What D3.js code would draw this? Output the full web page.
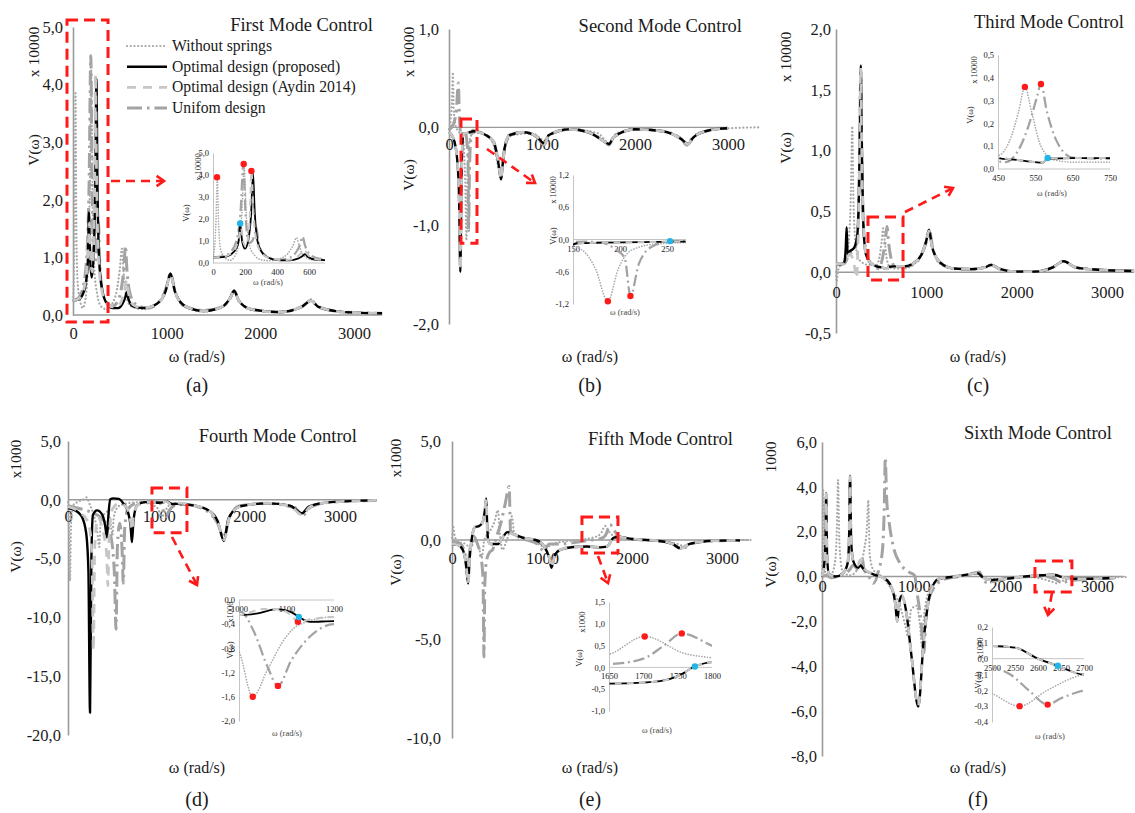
<!DOCTYPE html>
<html>
<head>
<meta charset="utf-8">
<script src="https://cdn.jsdelivr.net/npm/d3@7"></script>
<style>
  body { margin: 0; background: #fff; }
  svg text { font-family: "Liberation Serif", "Times New Roman", serif; fill: #1a1a1a; }
</style>
</head>
<body>
<svg id="fig" width="1135" height="813"></svg>
<script>
// ---------------------------------------------------------------
// Frequency response V(ω) for each controlled mode, [ω (rad/s), V]
// ---------------------------------------------------------------
const seriesNames = ["Without springs", "Optimal design (proposed)", "Optimal design (Aydin 2014)", "Unifom design"];

// First mode (x 10000)
const firstWithout = [[0,0.25],[10,0.7],[18,1.8],[27,3.85],[35,1.8],[48,0.6],[75,0.25],[105,0.12],[135,0.3],[160,0.9],[180,2.2],[195,4.25],[208,2.2],[228,0.8],[260,0.35],[300,0.15],[360,0.1],[420,0.2],[470,0.45],[500,0.8],[522,1.15],[540,0.75],[565,0.35],[620,0.15],[750,0.1],[900,0.2],[990,0.42],[1040,0.72],[1090,0.4],[1180,0.15],[1400,0.06],[1600,0.15],[1680,0.3],[1720,0.42],[1770,0.25],[1900,0.1],[2200,0.05],[2450,0.15],[2540,0.27],[2620,0.14],[2900,0.05],[3300,0.03]];
const firstProposed = [[0,0.25],[60,0.27],[110,0.38],[145,0.65],[160,1.0],[170,1.78],[182,1.0],[200,0.65],[222,1.1],[238,2.2],[250,4.1],[261,2.3],[278,1.0],[310,0.45],[360,0.2],[420,0.12],[480,0.12],[530,0.2],[560,0.32],[575,0.4],[592,0.28],[640,0.15],[750,0.12],[900,0.2],[990,0.42],[1040,0.72],[1090,0.4],[1200,0.15],[1400,0.07],[1600,0.15],[1680,0.3],[1720,0.42],[1770,0.25],[1900,0.1],[2200,0.05],[2450,0.15],[2540,0.25],[2620,0.14],[2900,0.05],[3300,0.03]];
const firstAydin = [[0,0.25],[60,0.28],[110,0.42],[145,0.75],[162,1.2],[176,1.6],[188,1.0],[205,0.75],[222,1.3],[232,2.4],[240,4.18],[252,2.4],[272,1.0],[305,0.45],[360,0.2],[420,0.14],[480,0.15],[530,0.3],[558,0.5],[572,0.6],[590,0.4],[640,0.18],[750,0.12],[900,0.2],[990,0.42],[1040,0.7],[1090,0.4],[1200,0.15],[1400,0.07],[1600,0.15],[1680,0.3],[1720,0.41],[1770,0.25],[1900,0.1],[2200,0.05],[2450,0.15],[2540,0.25],[2620,0.14],[2900,0.05],[3300,0.03]];
const firstUniform = [[0,0.25],[60,0.3],[110,0.5],[150,1.1],[172,2.3],[190,4.5],[203,2.3],[222,0.9],[245,1.0],[262,1.35],[272,1.6],[283,1.0],[310,0.45],[360,0.22],[420,0.15],[480,0.25],[520,0.5],[545,0.85],[560,1.2],[575,0.8],[605,0.4],[660,0.2],[800,0.12],[950,0.3],[1000,0.5],[1040,0.72],[1090,0.4],[1200,0.15],[1400,0.08],[1600,0.15],[1680,0.3],[1720,0.42],[1770,0.25],[1900,0.1],[2200,0.05],[2450,0.15],[2540,0.25],[2620,0.14],[2900,0.05],[3300,0.03]];
const firstRed = [[25,3.9],[192,4.5],[240,4.18]];
const firstBlue = [[170,1.8]];

// Second mode (x 10000)
const secondWithout = [[0,-0.02],[20,0.1],[33,0.3],[42,0.56],[50,0.2],[70,0.02],[100,-0.04],[140,-0.08],[160,-0.2],[174,-0.55],[187,-1.15],[198,-0.55],[212,-0.2],[240,-0.08],[300,-0.05],[400,-0.08],[480,-0.18],[530,-0.4],[555,-0.5],[590,-0.26],[680,-0.08],[900,-0.06],[990,-0.12],[1030,-0.15],[1090,-0.07],[1300,-0.02],[1600,-0.06],[1720,-0.16],[1800,-0.06],[2100,-0.02],[2450,-0.08],[2570,-0.16],[2680,-0.06],[3000,-0.01],[3350,0.0]];
const secondProposed = [[0,-0.05],[30,-0.08],[60,-0.15],[90,-0.35],[108,-0.7],[122,-1.47],[133,-0.6],[143,-0.2],[155,-0.07],[180,-0.06],[220,-0.05],[260,-0.04],[320,-0.05],[400,-0.08],[480,-0.15],[520,-0.3],[545,-0.45],[560,-0.53],[575,-0.4],[600,-0.2],[650,-0.08],[800,-0.05],[950,-0.1],[1000,-0.15],[1030,-0.17],[1070,-0.08],[1300,-0.02],[1500,-0.05],[1680,-0.15],[1720,-0.17],[1770,-0.1],[2000,-0.02],[2300,-0.04],[2500,-0.12],[2570,-0.17],[2630,-0.1],[2800,-0.03],[3000,-0.01]];
const secondAydin = [[0,-0.05],[30,-0.08],[60,-0.15],[90,-0.35],[108,-0.7],[123,-1.45],[134,-0.6],[143,-0.2],[155,-0.07],[180,-0.06],[220,-0.05],[260,-0.04],[320,-0.05],[400,-0.08],[480,-0.15],[520,-0.3],[545,-0.45],[560,-0.53],[575,-0.4],[600,-0.2],[650,-0.08],[800,-0.05],[950,-0.1],[1000,-0.15],[1030,-0.17],[1070,-0.08],[1300,-0.02],[1500,-0.05],[1680,-0.15],[1720,-0.17],[1770,-0.1],[2000,-0.02],[2300,-0.04],[2500,-0.12],[2570,-0.17],[2630,-0.1],[2800,-0.03],[3000,-0.01]];
const secondUniform = [[0,-0.03],[50,0.04],[80,0.18],[100,0.45],[112,0.1],[130,-0.08],[160,-0.04],[180,-0.06],[195,-0.18],[205,-0.35],[211,-1.05],[220,-0.45],[235,-0.12],[255,-0.03],[300,-0.04],[400,-0.08],[480,-0.15],[520,-0.3],[545,-0.45],[560,-0.52],[575,-0.4],[600,-0.2],[650,-0.08],[800,-0.05],[950,-0.1],[1020,-0.18],[1070,-0.08],[1300,-0.02],[1500,-0.05],[1680,-0.15],[1720,-0.18],[1770,-0.1],[2000,-0.02],[2300,-0.04],[2500,-0.12],[2560,-0.18],[2620,-0.1],[2800,-0.03],[3000,-0.01]];
const secondRed = [[187,-1.15],[211,-1.05]];
const secondBlue = [[253,-0.03]];

// Third mode (x 10000)
const thirdWithout = [[0,0.0],[8,-0.08],[20,0.0],[50,0.06],[100,0.1],[140,0.25],[163,0.6],[180,1.2],[193,0.6],[215,0.25],[245,0.12],[290,0.08],[360,0.06],[450,0.06],[480,0.12],[505,0.25],[522,0.36],[540,0.25],[565,0.1],[600,0.04],[650,0.03],[750,0.03],[850,0.06],[950,0.15],[1000,0.27],[1035,0.32],[1075,0.18],[1150,0.07],[1300,0.03],[1500,0.025],[1650,0.04],[1720,0.06],[1800,0.03],[2000,0.005],[2200,0.005],[2400,0.04],[2520,0.09],[2650,0.04],[2900,0.02],[3300,0.01]];
const thirdProposed = [[0,0.065],[60,0.065],[90,0.08],[108,0.2],[118,0.37],[128,0.15],[150,0.17],[200,0.2],[235,0.3],[255,0.7],[267,1.3],[275,1.7],[284,1.1],[300,0.45],[330,0.15],[380,0.08],[450,0.048],[500,0.04],[550,0.03],[570,0.028],[583,0.045],[650,0.048],[750,0.048],[850,0.07],[950,0.15],[1000,0.26],[1030,0.35],[1060,0.22],[1150,0.08],[1300,0.03],[1500,0.025],[1650,0.04],[1720,0.06],[1800,0.03],[2000,0.005],[2200,0.005],[2400,0.04],[2520,0.09],[2650,0.04],[2900,0.02],[3300,0.01]];
const thirdAydin = [[0,0.065],[90,0.07],[120,0.1],[150,0.15],[190,0.1],[215,0.0],[228,-0.05],[242,0.2],[260,0.9],[273,1.68],[283,1.1],[300,0.45],[330,0.15],[380,0.08],[450,0.05],[500,0.04],[550,0.03],[570,0.028],[583,0.045],[650,0.048],[750,0.048],[850,0.07],[950,0.15],[1000,0.26],[1030,0.34],[1060,0.22],[1150,0.08],[1300,0.03],[1500,0.025],[1650,0.04],[1720,0.06],[1800,0.03],[2000,0.005],[2200,0.005],[2400,0.04],[2520,0.09],[2650,0.04],[2900,0.02],[3300,0.01]];
const thirdUniform = [[0,0.07],[90,0.07],[150,0.15],[200,0.18],[240,0.3],[260,0.9],[274,1.65],[285,1.0],[310,0.3],[360,0.1],[420,0.05],[470,0.03],[500,0.07],[530,0.18],[555,0.32],[565,0.375],[580,0.26],[605,0.13],[650,0.05],[750,0.045],[850,0.06],[950,0.15],[1000,0.25],[1035,0.34],[1070,0.2],[1150,0.08],[1300,0.03],[1500,0.025],[1650,0.04],[1720,0.06],[1800,0.03],[2000,0.005],[2200,0.005],[2400,0.04],[2520,0.09],[2650,0.04],[2900,0.02],[3300,0.01]];
const thirdRed = [[522,0.36],[565,0.373]];
const thirdBlue = [[583,0.048]];

// Fourth mode (x1000)
const fourthWithout = [[0,-0.2],[10,-2],[22,-6.9],[34,-2],[55,-0.5],[100,-0.2],[160,0.0],[205,0.2],[240,-0.4],[280,-1.2],[320,-2.5],[345,-4],[360,-2],[400,-1.2],[440,-1],[470,-2],[490,-3],[505,-1.5],[550,-0.6],[600,-0.4],[650,-0.3],[800,-0.2],[900,-0.35],[960,-0.55],[1000,-0.85],[1029,-1.6],[1060,-1.15],[1100,-0.6],[1124,-0.42],[1200,-0.28],[1400,-0.5],[1600,-1.2],[1720,-3],[1800,-1.2],[1900,-0.5],[2200,-0.3],[2500,-0.6],[2590,-1.2],[2680,-0.6],[2900,-0.2],[3400,-0.05]];
const fourthProposed = [[0,-0.7],[80,-0.9],[150,-1.4],[200,-2.8],[225,-6],[243,-18.1],[258,-5],[275,-1.3],[320,-0.9],[380,-1.3],[410,-2.2],[430,-3.2],[445,-1.4],[465,0.05],[500,0.12],[560,0.08],[610,-0.3],[660,-1.0],[690,-2.2],[705,-3.6],[722,-1.8],[760,-0.5],[850,-0.2],[950,-0.22],[1000,-0.25],[1040,-0.22],[1080,-0.15],[1110,-0.2],[1126,-0.28],[1150,-0.36],[1200,-0.35],[1400,-0.5],[1550,-0.9],[1650,-1.8],[1720,-3.5],[1770,-1.6],[1900,-0.55],[2200,-0.3],[2450,-0.5],[2580,-1.15],[2660,-0.55],[2900,-0.2],[3400,-0.05]];
const fourthAydin = [[0,-0.6],[80,-0.8],[150,-1.2],[200,-1.6],[240,-2.5],[265,-5],[280,-12.8],[295,-4],[330,-1.5],[380,-2.5],[425,-4.5],[440,-7.3],[455,-3],[490,-0.8],[560,-0.3],[640,-0.6],[690,-1.8],[705,-2.6],[725,-1.2],[780,-0.4],[900,-0.2],[1000,-0.25],[1050,-0.15],[1080,-0.15],[1110,-0.25],[1124,-0.36],[1150,-0.32],[1200,-0.28],[1400,-0.5],[1550,-0.9],[1650,-1.9],[1725,-3.4],[1775,-1.6],[1900,-0.55],[2200,-0.3],[2450,-0.55],[2585,-1.3],[2670,-0.6],[2900,-0.2],[3400,-0.05]];
const fourthUniform = [[0,-0.5],[100,-0.7],[200,-0.9],[300,-1.2],[400,-1.8],[470,-3],[510,-6],[530,-11.0],[545,-4],[570,-2],[595,-4],[610,-7.1],[625,-2.5],[660,-0.8],[750,-0.3],[900,-0.15],[1005,-0.2],[1030,-0.5],[1060,-1.1],[1082,-1.42],[1110,-1.0],[1150,-0.6],[1200,-0.4],[1300,-0.4],[1500,-0.8],[1650,-2.0],[1720,-3.2],[1780,-1.5],[1900,-0.5],[2200,-0.3],[2500,-0.7],[2590,-1.3],[2680,-0.6],[2900,-0.2],[3400,-0.05]];
const fourthRed = [[1029,-1.6],[1082,-1.42],[1124,-0.36]];
const fourthBlue = [[1126,-0.28]];

// Fifth mode (x1000)
const fifthWithout = [[0,0.1],[8,0.4],[15,0.65],[30,0.2],[70,-0.1],[150,-0.2],[210,-0.4],[250,0.0],[300,-0.4],[330,-0.9],[360,0.0],[400,0.3],[470,0.9],[510,1.5],[530,0.4],[560,-0.5],[600,-0.1],[640,0.5],[665,1.2],[690,0.4],[750,0.15],[800,0.1],[900,0.0],[1000,-0.3],[1080,-0.3],[1150,-0.15],[1400,0.0],[1550,0.1],[1650,0.3],[1702,0.71],[1760,0.32],[1800,0.22],[1900,0.1],[2200,0],[2500,-0.2],[2580,-0.3],[2700,-0.1],[3000,0],[3350,0]];
const fifthProposed = [[0,-0.2],[65,-0.25],[120,-0.5],[155,-1.2],[180,-2.2],[195,-1.0],[215,-0.1],[235,0.45],[255,0.65],[300,0.7],[340,0.9],[365,1.5],[380,2.1],[392,0.6],[405,-0.1],[430,-0.2],[470,-0.2],[515,-0.2],[560,0.1],[615,0.4],[680,0.3],[800,0.1],[930,0.0],[1020,-0.3],[1080,-0.9],[1105,-1.4],[1140,-0.8],[1200,-0.5],[1350,-0.35],[1500,-0.33],[1650,-0.37],[1700,-0.35],[1730,-0.3],[1750,-0.2],[1775,0.02],[1800,0.12],[1850,0.15],[2000,0.05],[2300,-0.05],[2450,-0.2],[2540,-0.42],[2640,-0.2],[2850,-0.05],[3200,-0.02]];
const fifthAydin = [[0,-0.2],[65,-0.25],[120,-0.5],[155,-1.2],[180,-2.2],[195,-1.0],[215,-0.1],[235,0.45],[255,0.65],[300,0.7],[340,0.9],[365,1.5],[380,2.05],[392,0.6],[405,-0.1],[430,-0.2],[470,-0.2],[515,-0.2],[560,0.1],[615,0.4],[680,0.3],[800,0.1],[930,0.0],[1020,-0.3],[1080,-0.9],[1105,-1.4],[1140,-0.8],[1200,-0.5],[1350,-0.35],[1500,-0.33],[1650,-0.37],[1700,-0.35],[1730,-0.3],[1750,-0.2],[1775,0.02],[1800,0.12],[1850,0.15],[2000,0.05],[2300,-0.05],[2450,-0.2],[2540,-0.42],[2640,-0.2],[2850,-0.05],[3200,-0.02]];
const fifthUniform = [[0,-0.1],[80,-0.15],[140,-0.6],[175,-1.8],[195,-0.6],[240,0.2],[290,-0.3],[320,-0.8],[345,-2],[355,-5.9],[365,-2.2],[385,-1.0],[420,-0.6],[450,-0.5],[490,0.1],[540,0.8],[590,1.8],[635,2.7],[650,0.5],[700,0.25],[800,0.05],[950,-0.2],[1020,-0.55],[1080,-0.2],[1200,-0.2],[1400,-0.1],[1550,0],[1650,0.07],[1700,0.2],[1730,0.5],[1756,0.78],[1800,0.5],[1850,0.2],[2000,0.05],[2300,-0.05],[2450,-0.2],[2550,-0.45],[2650,-0.2],[2850,-0.05],[3200,-0.02]];
const fifthRed = [[1702,0.71],[1756,0.78]];
const fifthBlue = [[1775,0.02]];

// Sixth mode (x1000)
const sixthWithout = [[0,0],[6,1.5],[12,3.9],[20,1.2],[40,0.1],[100,0.1],[140,0.6],[160,1.8],[175,4.3],[190,1.5],[220,0.3],[300,0.05],[400,0.4],[460,1.2],[490,2.2],[505,3.4],[520,1.0],[560,0.3],[650,0.0],[750,-0.5],[850,-1.3],[910,-2.2],[940,-2.7],[970,-1.5],[1030,-1.3],[1070,-2.2],[1090,-3.1],[1120,-1.5],[1200,-0.4],[1400,0.0],[1600,0.1],[1720,0.15],[1780,-0.1],[1900,-0.1],[2200,0.0],[2400,-0.1],[2500,-0.22],[2560,-0.3],[2620,-0.2],[2700,-0.1],[2900,-0.05],[3350,-0.02]];
const sixthProposed = [[0,0],[25,0.6],[38,1.5],[45,3.73],[55,1.0],[75,0.1],[150,0.0],[230,0.15],[280,0.6],[295,1.6],[306,4.5],[318,1.6],[340,0.7],[393,0.4],[420,0.5],[450,0.35],[560,0.1],[690,-0.1],[760,-0.5],[800,-1.2],[820,-2.0],[845,-1.1],[870,-0.85],[920,-1.6],[975,-3.5],[1050,-5.8],[1110,-2.8],[1180,-0.75],[1270,-0.1],[1450,0.0],[1600,0.1],[1700,0.15],[1760,-0.05],[1850,-0.15],[2000,-0.1],[2200,0.0],[2400,0.06],[2500,0.08],[2550,0.07],[2600,0.0],[2643,-0.045],[2700,-0.1],[2900,-0.1],[3200,-0.05]];
const sixthAydin = [[0,0],[25,0.6],[38,1.5],[45,3.7],[55,1.0],[75,0.1],[150,0.0],[230,0.15],[280,0.6],[295,1.6],[306,4.45],[318,1.6],[340,0.7],[390,0.5],[420,0.75],[450,0.4],[560,0.1],[690,-0.1],[760,-0.5],[800,-1.2],[820,-2.0],[845,-1.1],[870,-0.85],[920,-1.6],[975,-3.5],[1050,-5.75],[1110,-2.8],[1180,-0.75],[1270,-0.1],[1450,0.0],[1600,0.1],[1700,0.15],[1760,-0.05],[1850,-0.15],[2000,-0.1],[2200,0.0],[2400,0.06],[2500,0.08],[2550,0.07],[2600,0.0],[2643,-0.045],[2700,-0.1],[2900,-0.1],[3200,-0.05]];
const sixthUniform = [[0,0],[40,0.05],[100,-0.05],[200,0.05],[300,0.3],[340,0.5],[400,0.3],[440,0.8],[460,0.3],[500,0.1],[560,-0.3],[620,0.3],[660,1.2],[680,3.2],[690,5.3],[705,3.5],[730,2.5],[780,1.3],[850,0.6],[950,0.2],[1010,0.05],[1040,-0.8],[1080,-2.0],[1110,-3.4],[1140,-1.5],[1220,-0.5],[1350,-0.1],[1500,0.0],[1650,0.15],[1720,0.2],[1760,-0.2],[1800,-0.25],[2000,-0.1],[2300,0.0],[2450,0.0],[2500,-0.05],[2540,-0.1],[2580,-0.2],[2621,-0.29],[2650,-0.25],[2700,-0.2],[2900,-0.12],[3200,-0.05]];
const sixthRed = [[2560,-0.30],[2621,-0.29]];
const sixthBlue = [[2643,-0.045]];

// ---------------------------------------------------------------
// Panel layout
// ---------------------------------------------------------------
const panels = [
  { title: "First Mode Control", titleAt: [373, 31], letter: "(a)", letterAt: [197, 392], wAt: [197, 362],
    xRange: [73, 354], xEnd: 3300, yDomain: [0, 5], yRange: [315, 27], yTicks: [0, 1, 2, 3, 4, 5],
    yGap: 10, xGap: 12, unit: "x 10000", unitAt: [33, 52], vAt: [33, 150],
    data: { without: firstWithout, uniform: firstUniform, proposed: firstProposed, aydin: firstAydin },
    box: { w: [-64, 374], v: [-0.12, 5.12] }, arrow: [[111, 181], [164, 181]], legend: true,
    inset: { xDomain: [0, 700], xRange: [213, 325], yDomain: [0, 5], yRange: [263, 153],
             xTicks: [0, 200, 400, 600], yTicks: [0, 1, 2, 3, 4, 5], unit: "x 10000", unitAt: [198, 167], vAt: [186, 213],
             wAt: [268, 285], red: firstRed, blue: firstBlue } },
  { title: "Second Mode Control", titleAt: [742, 32], letter: "(b)", letterAt: [590, 392], wAt: [590, 362],
    xRange: [449, 728], xEnd: 3000, yDomain: [-2, 1], yRange: [324, 29], yTicks: [-2, -1, 0, 1],
    yGap: 10, xGap: 11, unit: "x 10000", unitAt: [408, 52], vAt: [408, 175],
    data: { without: secondWithout, uniform: secondUniform, proposed: secondProposed, aydin: secondAydin },
    box: { w: [129, 301], v: [-1.18, 0.085] }, arrow: [[487, 149], [535, 183]],
    inset: { xDomain: [150, 270], xRange: [573, 686], yDomain: [-1.2, 1.2], yRange: [304, 175],
             xTicks: [150, 200, 250], yTicks: [-1.2, -0.6, 0, 0.6, 1.2], unit: "x 10000", unitAt: [553, 190], vAt: [553, 236],
             wAt: [625, 315], red: secondRed, blue: secondBlue } },
  { title: "Third Mode Control", titleAt: [1124, 28], letter: "(c)", letterAt: [978, 392], wAt: [978, 362],
    xRange: [836, 1107], xEnd: 3300, yDomain: [-0.5, 2], yRange: [333, 29], yTicks: [-0.5, 0, 0.5, 1, 1.5, 2],
    yGap: 5, xGap: 14, unit: "x 10000", unitAt: [785, 57], vAt: [785, 148],
    data: { without: thirdWithout, uniform: thirdUniform, proposed: thirdProposed, aydin: thirdAydin },
    box: { w: [354, 742], v: [-0.064, 0.454] }, arrow: [[905, 212], [953, 188]],
    inset: { xDomain: [450, 750], xRange: [998, 1110], yDomain: [0, 0.5], yRange: [169, 55],
             xTicks: [450, 550, 650, 750], yTicks: [0, 0.1, 0.2, 0.3, 0.4, 0.5], unit: "x 10000", unitAt: [974, 70], vAt: [970, 115],
             wAt: [1052, 196], red: thirdRed, blue: thirdBlue } },
  { title: "Fourth Mode Control", titleAt: [357, 442], letter: "(d)", letterAt: [197, 806], wAt: [197, 773],
    xRange: [68, 340], xEnd: 3400, yDomain: [-20, 5], yRange: [735, 441], yTicks: [-20, -15, -10, -5, 0, 5],
    yGap: 7, xGap: 10, unit: "x1000", unitAt: [15, 459], vAt: [15, 557],
    data: { without: fourthWithout, uniform: fourthUniform, proposed: fourthProposed, aydin: fourthAydin },
    box: { w: [926, 1312], v: [-2.8, 1.0] }, arrow: [[172, 537], [197, 585]],
    inset: { xDomain: [1000, 1200], xRange: [239, 334], yDomain: [-2, 0], yRange: [721, 600],
             xTicks: [1000, 1100, 1200], yTicks: [-2, -1.6, -1.2, -0.8, -0.4, 0], unit: "x1000", unitAt: [230, 612], vAt: [230, 650],
             wAt: [287, 736], red: fourthRed, blue: fourthBlue } },
  { title: "Fifth Mode Control", titleAt: [733, 445], letter: "(e)", letterAt: [590, 806], wAt: [590, 773],
    xRange: [452, 722], xEnd: 3300, yDomain: [-10, 5], yRange: [738, 441], yTicks: [-10, -5, 0, 5],
    yGap: 11, xGap: 12, unit: "x1000", unitAt: [395, 458], vAt: [395, 570],
    data: { without: fifthWithout, uniform: fifthUniform, proposed: fifthProposed, aydin: fifthAydin },
    box: { w: [1444, 1844], v: [-0.66, 1.16] }, arrow: [[598, 556], [608, 583]],
    inset: { xDomain: [1650, 1800], xRange: [609, 712], yDomain: [-1, 1.5], yRange: [711, 602],
             xTicks: [1650, 1700, 1750, 1800], yTicks: [-1, -0.5, 0, 0.5, 1, 1.5], unit: "x1000", unitAt: [582, 622], vAt: [579, 658],
             wAt: [657, 733], red: fifthRed, blue: fifthBlue } },
  { title: "Sixth Mode Control", titleAt: [1112, 439], letter: "(f)", letterAt: [978, 806], wAt: [978, 773],
    xRange: [822, 1097], xEnd: 3300, yDomain: [-8, 6], yRange: [756, 442], yTicks: [-8, -6, -4, -2, 0, 2, 4, 6],
    yGap: 5, xGap: 4, unit: "1000", unitAt: [770, 457], vAt: [770, 572],
    data: { without: sixthWithout, uniform: sixthUniform, proposed: sixthProposed, aydin: sixthAydin },
    box: { w: [2323, 2726], v: [-0.69, 0.69] }, arrow: [[1052, 593], [1048, 615]],
    inset: { xDomain: [2500, 2700], xRange: [992, 1084], yDomain: [-0.4, 0.2], yRange: [722, 627],
             xTicks: [2500, 2550, 2600, 2650, 2700], yTicks: [-0.4, -0.3, -0.2, -0.1, 0, 0.1, 0.2], unit: "x1000", unitAt: [980, 648], vAt: [978, 680],
             wAt: [1050, 739], red: sixthRed, blue: sixthBlue } }
];

// Line style for each design, drawn in this order
const styles = [
  { key: "without",  stroke: "#a8a8a8", width: 2.2, dash: "0.1,3.6", cap: "round" },
  { key: "uniform",  stroke: "#a3a3a3", width: 3.0, dash: "15,5,2.5,5", cap: "butt" },
  { key: "proposed", stroke: "#000000", width: 2.4, dash: null, cap: "butt" },
  { key: "aydin",    stroke: "#c6c6c6", width: 2.8, dash: "9,7", cap: "butt" }
];
const legendOrder = ["without", "proposed", "aydin", "uniform"];

const loc = d3.formatLocale({ decimal: ",", thousands: ".", grouping: [3], currency: ["", ""], minus: "-" });
const fmt1 = loc.format(".1f");
const axisGray = "#9a9a9a";
const red = "#ff1a1a";
const blue = "#22b5e8";
const serif = '"Liberation Serif", "Times New Roman", serif';

const svg = d3.select("#fig");

function scaleDash(dash, k) {
  if (!dash) return null;
  return dash.split(",").map(v => (+v * k).toFixed(2)).join(",");
}

function drawSeries(g, data, x, y, k) {
  const line = d3.line().x(d => x(d[0])).y(d => y(d[1])).curve(d3.curveMonotoneX);
  styles.forEach(s => {
    g.append("path")
      .datum(data[s.key])
      .attr("d", line)
      .attr("fill", "none")
      .attr("stroke", s.stroke)
      .attr("stroke-width", s.width * k)
      .attr("stroke-dasharray", scaleDash(s.dash, k))
      .attr("stroke-linecap", s.cap)
      .attr("stroke-linejoin", "round");
  });
}

function rotatedLabel(g, text, at, size) {
  g.append("text")
    .attr("transform", `translate(${at[0]},${at[1]}) rotate(-90)`)
    .attr("text-anchor", "middle")
    .attr("dominant-baseline", "central")
    .style("font-size", size + "px")
    .text(text);
}

function drawArrow(g, a, b) {
  g.append("line")
    .attr("x1", a[0]).attr("y1", a[1]).attr("x2", b[0]).attr("y2", b[1])
    .attr("stroke", red).attr("stroke-width", 2.6).attr("stroke-dasharray", "9,6");
  const ang = Math.atan2(b[1] - a[1], b[0] - a[0]);
  const L = 9, spread = 0.6;
  const p1 = [b[0] - L * Math.cos(ang - spread), b[1] - L * Math.sin(ang - spread)];
  const p2 = [b[0] - L * Math.cos(ang + spread), b[1] - L * Math.sin(ang + spread)];
  g.append("path")
    .attr("d", `M${p1[0]},${p1[1]}L${b[0]},${b[1]}L${p2[0]},${p2[1]}`)
    .attr("fill", "none").attr("stroke", red).attr("stroke-width", 2.6);
}

panels.forEach((p, i) => {
  const g = svg.append("g");
  const x = d3.scaleLinear().domain([0, 3000]).range(p.xRange);
  const y = d3.scaleLinear().domain(p.yDomain).range(p.yRange);

  // y axis
  const yAxis = d3.axisLeft(y).tickValues(p.yTicks).tickSizeInner(0).tickSizeOuter(0)
    .tickPadding(p.yGap).tickFormat(fmt1);
  const ya = g.append("g").attr("transform", `translate(${p.xRange[0]},0)`).call(yAxis)
    .attr("font-family", serif).attr("font-size", 16.5);
  ya.select(".domain").attr("stroke", axisGray).attr("stroke-width", 1.6);

  // zero line with frequency labels underneath
  g.append("line").attr("x1", x(0)).attr("x2", x(p.xEnd)).attr("y1", y(0)).attr("y2", y(0))
    .attr("stroke", axisGray).attr("stroke-width", 1.4);
  const xAxis = d3.axisBottom(x).tickValues([0, 1000, 2000, 3000]).tickSize(0).tickPadding(p.xGap)
    .tickFormat(d3.format("d"));
  const xa = g.append("g").attr("transform", `translate(0,${y(0)})`).call(xAxis)
    .attr("font-family", serif).attr("font-size", 16.5);
  xa.select(".domain").remove();

  drawSeries(g.append("g"), p.data, x, y, 1);

  // titles and labels
  g.append("text").attr("x", p.titleAt[0]).attr("y", p.titleAt[1]).attr("text-anchor", "end")
    .style("font-size", "18.5px").text(p.title);
  rotatedLabel(g, p.unit, p.unitAt, 15.5);
  rotatedLabel(g, "V(ω)", p.vAt, 15.5);
  g.append("text").attr("x", p.wAt[0]).attr("y", p.wAt[1]).attr("text-anchor", "middle")
    .style("font-size", "16px").text("ω (rad/s)");
  g.append("text").attr("x", p.letterAt[0]).attr("y", p.letterAt[1]).attr("text-anchor", "middle")
    .style("font-size", "20px").text(p.letter);

  // zoom frame and pointer
  g.append("rect")
    .attr("x", x(p.box.w[0])).attr("y", y(p.box.v[1]))
    .attr("width", x(p.box.w[1]) - x(p.box.w[0])).attr("height", y(p.box.v[0]) - y(p.box.v[1]))
    .attr("fill", "none").attr("stroke", red).attr("stroke-width", 3).attr("stroke-dasharray", "11,6");
  drawArrow(g, p.arrow[0], p.arrow[1]);

  // inset with the zoomed region
  const q = p.inset;
  const ix = d3.scaleLinear().domain(q.xDomain).range(q.xRange);
  const iy = d3.scaleLinear().domain(q.yDomain).range(q.yRange);
  const ig = g.append("g");
  const clipId = "clip" + i;
  ig.append("clipPath").attr("id", clipId).append("rect")
    .attr("x", q.xRange[0]).attr("y", q.yRange[1] - 2)
    .attr("width", q.xRange[1] - q.xRange[0]).attr("height", q.yRange[0] - q.yRange[1] + 4);

  const iya = ig.append("g").attr("transform", `translate(${q.xRange[0]},0)`)
    .call(d3.axisLeft(iy).tickValues(q.yTicks).tickSize(0).tickPadding(4).tickFormat(fmt1))
    .attr("font-family", serif).attr("font-size", 8.5);
  iya.select(".domain").attr("stroke", "#c4c4c4").attr("stroke-width", 1);
  iya.selectAll("text").attr("fill", "#444");

  ig.append("line").attr("x1", q.xRange[0]).attr("x2", q.xRange[1]).attr("y1", iy(0)).attr("y2", iy(0))
    .attr("stroke", "#c4c4c4").attr("stroke-width", 1);
  const ixa = ig.append("g").attr("transform", `translate(0,${iy(0)})`)
    .call(d3.axisBottom(ix).tickValues(q.xTicks).tickSize(0).tickPadding(6).tickFormat(d3.format("d")))
    .attr("font-family", serif).attr("font-size", 8.5);
  ixa.select(".domain").remove();
  ixa.selectAll("text").attr("fill", "#444");

  drawSeries(ig.append("g").attr("clip-path", `url(#${clipId})`), p.data, ix, iy, 0.75);

  ig.selectAll("circle.peak").data(q.red).join("circle")
    .attr("cx", d => ix(d[0])).attr("cy", d => iy(d[1])).attr("r", 3.2).attr("fill", red);
  ig.selectAll("circle.target").data(q.blue).join("circle")
    .attr("cx", d => ix(d[0])).attr("cy", d => iy(d[1])).attr("r", 3.2).attr("fill", blue);

  rotatedLabel(ig, q.unit, q.unitAt, 8.5);
  rotatedLabel(ig, "V(ω)", q.vAt, 8.5);
  ig.append("text").attr("x", q.wAt[0]).attr("y", q.wAt[1]).attr("text-anchor", "middle")
    .style("font-size", "8.5px").style("fill", "#444").text("ω (rad/s)");

  // legend (first panel only)
  if (p.legend) {
    const lg = g.append("g");
    legendOrder.forEach((key, j) => {
      const s = styles.find(t => t.key === key);
      const yy = 46 + j * 20.7;
      lg.append("line").attr("x1", 127).attr("x2", 167).attr("y1", yy).attr("y2", yy)
        .attr("stroke", s.stroke).attr("stroke-width", s.width)
        .attr("stroke-dasharray", s.dash).attr("stroke-linecap", s.cap);
      lg.append("text").attr("x", 172).attr("y", yy + 5).style("font-size", "15.7px")
        .text(seriesNames[["without", "proposed", "aydin", "uniform"].indexOf(key)]);
    });
  }
});
</script>
</body>
</html>
